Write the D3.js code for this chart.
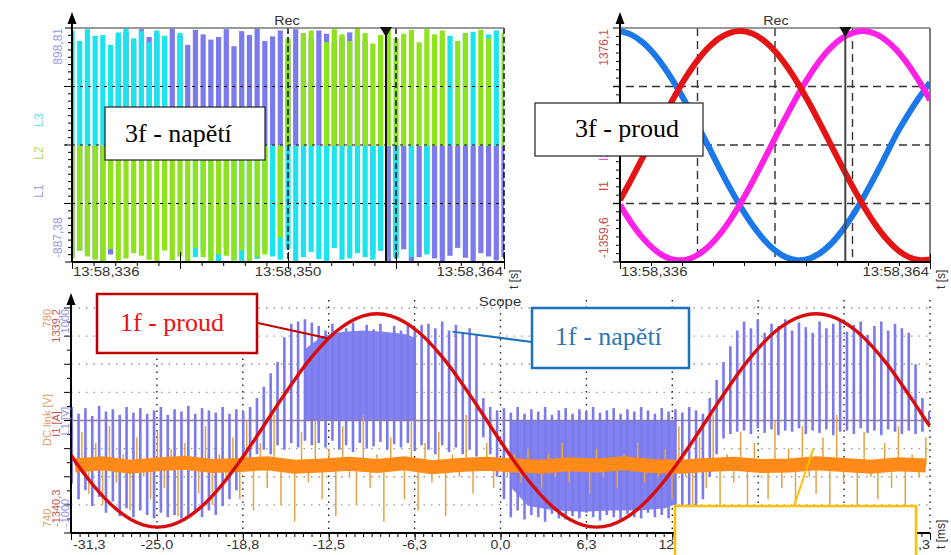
<!DOCTYPE html>
<html>
<head>
<meta charset="utf-8">
<script src="https://cdn.jsdelivr.net/npm/d3@7/dist/d3.min.js"></script>
<style>
  body { margin: 0; background: #fff; }
  svg { display: block; }
  text { font-family: Arial, "Liberation Sans", sans-serif; }
  .note { font-family: "Times New Roman", "Liberation Serif", serif; }
</style>
</head>
<body>
<svg id="chart" width="951" height="555"></svg>
<script>
// ---------- Rec (left): 3f napětí, one PWM pulse every 0.5 ms after 13:58,336 ----------
const recStart = 336;
const recStep = 0.5;
const recMajor = [336, 343, 350, 357, 364];
const recLabels = [336, 350, 364];
const cursorTime = 356.35;

const uL1 = [
  -840, -800, -810, -860, -880, -830,
  820, 870, 790, 890, 830, 860, 800, 895, 840, 770, 885, 850, 810, 830, 890, 760, 875, 845, 895, 800,
  835, 880, 780, 890, 860, 820, 880, 855, 790, 830, 865, 845, 800,
  -830, -800, -880, -845, -790, -885, -850, -810, -860, -887, -840, -780, -855, -880, -820, -845, -875, -850
];
const uL3 = [
  880, 800, 890, 840, 845, 770, 865, 895, 820, 875, 790, 880, 840, 0, 860, 0,
  -850, -800, -845, -880, -780, -875, -887, -820, -865, -800, -845, -870, -790, -885, -850, -810, -865,
  -880, -780, -870, -860, -820, -850, -870, -800,
  0, -860, 0, -850, 0, -830, 0, 0,
  840, 0, 860, 870, 0, 850, 880, 0
];
const uL2 = [
  -860, -800, -845, -870, -887, -790, -875, -860, -820, -840, -870, -885, -800, -875, -845, -880, -780,
  -850, -885, -830, -840, -875, -800, -880, -850, -830,
  0, -700,
  820, 0, 860, 880, 0, 790, 890, 850, 800, 898, 860, 780, 845, 890, 820, 855, 885, 790, 890, 850, 880,
  0, 800, 860, 0, 885, 820, 0, 860
];

// ---------- Rec (right): 3f proud, 1 ms samples ----------
const curStart = 336;
const curStep = 1;
const iRed = [-635, -399, -150, 105, 356, 594, 810, 997, 1149, 1259, 1323, 1340, 1308, 1228, 1104, 941, 744, 519, 276, 23,
  -230, -476, -704, -909, -1079, -1210, -1297, -1337, -1329];
const iBlue = [1338, 1299, 1214, 1084, 915, 714, 487, 241, -12, -267, -511, -736, -934, -1099, -1224, -1305, -1339, -1324,
  -1262, -1155, -1004, -817, -602, -365, -114, 141, 360, 560, 740];
const iMagenta = [-692, -897, -1069, -1202, -1293, -1336, -1332, -1278, -1179, -1037, -858, -648, -414, -166, 89, 340, 579,
  797, 988, 1141, 1253, 1320, 1340, 1311, 1234, 1114, 953, 757, 534];

// ---------- Scope: t [ms], L1 pulses / DC link every 0.5 ms from -31.25 ----------
const scopeStart = -31.25;
const scopeStep = 0.5;
const scopeTicks = [-31.3, -25.04, -18.78, -12.52, -6.26, 0, 6.26, 12.52, 18.78, 25.04, 31.3];

const l1Hi = [
  120, 60, 110, 40, 130, 80, 100, 50, 120, 70, 110, 60, 90, 120, 50, 100, 80, 130, 60, 110, 90, 70, 120, 60, 100,
  80, 120, 200, 300, 420, 520, 740, 860, 880, 900, 870,
  840, 800, 860, 780, 820, 870, 790, 850, 810, 860, 780, 840, 800, 870, 820, 850,
  860, 820, 880, 800, 850, 780, 820, 760,
  200, 120, 90,
  110, 70, 120, 60, 100, 80, 120, 50, 90, 110, 60, 100, 80, 120, 70, 90, 110, 60, 100, 80, 120, 90, 60, 110, 80, 100, 70, 120, 90, 60,
  200, 360, 520, 660, 800,
  880, 820, 900, 780, 860, 840, 900, 800, 870, 830, 780, 880, 820, 860, 900, 790, 850, 880, 760, 840, 880, 800, 860, 820, 780,
  500, 200, 80
];
const l1Lo = [
  -560, -700, -620, -760, -680, -820, -720, -850, -780, -860, -800, -840, -870, -820, -860, -840, -870, -850, -820, -860, -800, -840, -760, -700, -620,
  -420, -380, -300, -260, -300, -220, -260, -200, -240, -180, -220,
  -200, -240, -180, -260, -220, -280, -200, -250, -230, -190, -260, -210, -240, -200, -270, -220,
  -260, -300, -220, -280, -240, -300, -260, -320,
  -150, -300, -500,
  -700, -860, -800, -880, -840, -860, -900, -830, -870, -880, -850, -870, -820, -860, -890, -840, -860, -880, -830, -860, -870, -820, -860, -840, -870, -800, -860, -820, -780, -700,
  -500, -300, -160, -120, -100,
  -90, -120, -70, -110, -80, -130, -90, -100, -70, -120, -90, -110, -80, -130, -100, -90, -120, -70, -110, -90, -130, -80, -100, -120, -90,
  -120, -100, -60
];
// densely packed pulse blocks (solid fill in the picture)
const denseUpT = [-14.2, -13.0, -11.5, -10.0, -8.5, -7.0, -6.3];
const denseUpV = [640, 750, 790, 800, 790, 770, 740];
const denseDownT = [0.8, 2, 4, 6, 8, 10, 12, 12.8];
const denseDownV = [-600, -760, -800, -810, -800, -800, -780, -740];

const dcMean = 752;
const dcLink = [
  753, 758, 747, 756, 745, 759, 749, 754, 744, 757, 750, 746, 758, 748, 755, 743, 756, 751, 747, 759, 745, 754, 749, 757, 746,
  760, 744, 756, 748, 761, 745, 753, 742, 758, 749, 760, 746, 755, 743, 759, 750, 745, 761, 748, 754, 742, 757, 751, 746, 760,
  744, 756, 749, 758, 743, 754, 750, 761, 747, 752,
  756, 748, 753,
  750, 754, 749, 755, 751, 748, 754, 750, 756, 749, 753, 751, 747, 755, 750, 753, 748, 754, 751, 756, 749, 752, 750, 755,
  746, 759, 750, 744, 757, 748, 761, 745, 754, 749, 758, 743, 756, 751, 746, 760, 748, 755, 744, 759, 750, 747, 757, 745,
  761, 749, 753, 744, 758, 750, 746, 756, 748, 759, 745, 754, 750, 757, 752
];
const dcBandStart = -31;
const dcBandStep = 2;
const dcBand = [752.0, 752.4, 751.8, 752.2, 752.5, 751.9, 752.1, 752.4, 751.8, 752.0, 752.3, 751.9, 752.4, 751.7, 752.1, 752.3,
  752.0, 751.8, 752.2, 752.0, 752.4, 751.9, 751.8, 752.1, 752.3, 751.9, 752.0, 752.4, 752.1, 751.8, 752.2, 752.0];

const i1T = [-31.3, -31, -30, -29, -28, -27, -26, -25, -24, -23, -22, -21, -20, -19, -18, -17, -16, -15, -14, -13, -12,
  -11, -10, -9, -8, -7, -6, -5, -4, -3, -2, -1, 0, 1, 2, 3, 4, 5, 6, 7, 8, 9, 10, 11, 12, 13, 14, 15, 16, 17, 18, 19,
  20, 21, 22, 23, 24, 25, 26, 27, 28, 29, 30, 31, 31.3];
const i1Scope = [-410, -486, -706, -898, -1056, -1173, -1246, -1270, -1246, -1173, -1056, -898, -706, -486, -248, 0,
  248, 486, 706, 898, 1056, 1173, 1246, 1270, 1246, 1173, 1056, 898, 706, 486, 248, 0, -248, -486, -706, -898, -1056,
  -1173, -1246, -1270, -1246, -1173, -1056, -898, -706, -486, -248, 0, 248, 486, 706, 898, 1056, 1173, 1246, 1270,
  1246, 1173, 1056, 898, 706, 486, 248, 0, -70];

// ---------- scales ----------
const svg = d3.select("#chart");
const x1 = d3.scaleLinear().domain([336, 364]).range([72, 504]);
const y1 = d3.scaleLinear().domain([-887.38, 898.81]).range([262, 28]);
const x2 = d3.scaleLinear().domain([336, 364]).range([620, 930]);
const y2 = d3.scaleLinear().domain([-1359.6, 1376.1]).range([262, 28]);
const xs = d3.scaleLinear().domain([-31.3, 31.3]).range([71, 930]);
const yL1 = d3.scaleLinear().domain([-1000, 1000]).range([533, 308]);
const yI1 = d3.scaleLinear().domain([-1340.3, 1339.2]).range([533, 308]);
const yDc = d3.scaleLinear().domain([740, 780]).range([533, 308]);

const comma = (v, f) => d3.format(f)(v).replace(".", ",").replace("−", "-");

function wideText(g, x, y, str, size, anchor, sx, color) {
  return g.append("text")
    .attr("transform", `translate(${x},${y}) scale(${sx},1)`)
    .attr("text-anchor", anchor)
    .attr("font-size", size)
    .attr("fill", color || "#333")
    .text(str);
}

function vertText(g, x, y, str, size, anchor, color) {
  return g.append("text")
    .attr("transform", `translate(${x},${y}) rotate(-90)`)
    .attr("text-anchor", anchor)
    .attr("font-size", size)
    .attr("fill", color)
    .text(str);
}

function yAxisArrow(g, x, top, bottom) {
  g.append("line").attr("x1", x).attr("x2", x).attr("y1", top + 10).attr("y2", bottom)
    .attr("stroke", "#000").attr("stroke-width", 2);
  g.append("path").attr("d", `M${x - 4.5},${top + 12}L${x},${top}L${x + 4.5},${top + 12}Z`).attr("fill", "#000");
}

function leftTicks(g, x, yTop, yBottom, parts, every) {
  const step = (yBottom - yTop) / parts;
  d3.range(parts + 1).forEach(k => {
    const yy = yTop + k * step;
    const len = k % every === 0 ? 7 : 4;
    g.append("line").attr("x1", x - len).attr("x2", x).attr("y1", yy).attr("y2", yy)
      .attr("stroke", "#000").attr("stroke-width", 1);
  });
}

function bottomAxis(g, x, yPos, minor, major, upLen) {
  g.append("g").attr("transform", `translate(0,${yPos})`)
    .call(d3.axisBottom(x).tickValues(minor).tickSize(4).tickSizeOuter(0).tickFormat(""))
    .call(a => a.select(".domain").remove());
  g.append("g").attr("transform", `translate(0,${yPos})`)
    .call(d3.axisBottom(x).tickValues(major).tickSize(7).tickSizeOuter(0).tickFormat(""))
    .call(a => a.select(".domain").remove())
    .call(a => a.selectAll(".tick line").clone().attr("y2", -upLen));
  g.append("line").attr("x1", x.range()[0]).attr("x2", x.range()[1]).attr("y1", yPos).attr("y2", yPos)
    .attr("stroke", "#000").attr("stroke-width", 2);
}

function cursor(g, x, top, bottom, color) {
  g.append("line").attr("x1", x).attr("x2", x).attr("y1", top).attr("y2", bottom)
    .attr("stroke", color).attr("stroke-width", 2);
  g.append("path").attr("d", `M${x - 6},${top - 1}L${x + 6},${top - 1}L${x},${top + 9}Z`).attr("fill", "#111");
}

const defs = svg.append("defs");
[["clipA", 72, 28, 432, 234], ["clipB", 620, 28, 310, 234], ["clipC", 71, 300, 859, 233]].forEach(([id, cx, cy, w, h]) => {
  defs.append("clipPath").attr("id", id).append("rect").attr("x", cx).attr("y", cy).attr("width", w).attr("height", h);
});

// =================== panel A: 3f napětí ===================
const pA = svg.append("g");
const pulsesA = pA.append("g").attr("clip-path", "url(#clipA)");
[[uL1, "#7b7bee"], [uL3, "#1ce4ef"], [uL2, "#8fe31e"]].forEach(([series, color]) => {
  pulsesA.append("g").selectAll("rect").data(series).join("rect")
    .attr("x", (d, i) => x1(recStart + i * recStep) - 2.6)
    .attr("width", 5.2)
    .attr("y", d => Math.min(y1(d), y1(0)))
    .attr("height", d => Math.abs(y1(d) - y1(0)))
    .attr("fill", color);
});
// grid
[86.5, 145, 203.5].forEach(py => {
  pA.append("line").attr("x1", 64).attr("x2", 504).attr("y1", py).attr("y2", py)
    .attr("stroke", "#111").attr("stroke-width", 1.2).attr("stroke-dasharray", "3,5");
});
[350, 357].forEach(t => {
  pA.append("line").attr("x1", x1(t)).attr("x2", x1(t)).attr("y1", 28).attr("y2", 262)
    .attr("stroke", "#111").attr("stroke-width", 1.5).attr("stroke-dasharray", "6,3");
});
pA.append("line").attr("x1", 504).attr("x2", 504).attr("y1", 28).attr("y2", 262)
  .attr("stroke", "#111").attr("stroke-width", 1.5).attr("stroke-dasharray", "6,3");
pA.append("line").attr("x1", 72).attr("x2", 504).attr("y1", 28).attr("y2", 28).attr("stroke", "#777").attr("stroke-width", 1.5);
cursor(pA, x1(cursorTime), 28, 262, "#111");
leftTicks(pA, 72, 28, 262, 32, 8);
yAxisArrow(pA, 72, 12, 262);
bottomAxis(pA, x1, 262, d3.range(336, 364.01, 1.4), recMajor, 10);
recLabels.forEach((t, i) => {
  wideText(pA, x1(t) + (i === 0 ? 1 : i === 2 ? -1 : 0), 276, "13:58," + t, 13, ["start", "middle", "end"][i], 1.15);
});
wideText(pA, 287, 25, "Rec", 13, "middle", 1.1);
vertText(pA, 518, 289, "t [s]", 12, "start", "#333");
vertText(pA, 62, 28, comma(898.81, ".2f"), 12, "end", "#9a9ae6");
vertText(pA, 62, 258, comma(-887.38, ".2f"), 12, "start", "#9a9ae6");
vertText(pA, 43, 120, "L3", 12, "middle", "#6fdede");
vertText(pA, 43, 153, "L2", 12, "middle", "#b4dc5a");
vertText(pA, 43, 191, "L1", 12, "middle", "#9d9de8");

// =================== panel B: 3f proud ===================
const pB = svg.append("g");
[343, 350, 357].forEach(t => {
  pB.append("line").attr("x1", x2(t)).attr("x2", x2(t)).attr("y1", 28).attr("y2", 262)
    .attr("stroke", "#333").attr("stroke-width", 1.4).attr("stroke-dasharray", "8,5");
});
[86.5, 145, 203.5].forEach(py => {
  pB.append("line").attr("x1", 613).attr("x2", 930).attr("y1", py).attr("y2", py)
    .attr("stroke", "#333").attr("stroke-width", 1.4).attr("stroke-dasharray", "8,5");
});
pB.append("line").attr("x1", 930).attr("x2", 930).attr("y1", 28).attr("y2", 262).attr("stroke", "#555").attr("stroke-width", 1.5);
pB.append("line").attr("x1", 620).attr("x2", 930).attr("y1", 28).attr("y2", 28).attr("stroke", "#777").attr("stroke-width", 1.5);
const curveB = pB.append("g").attr("clip-path", "url(#clipB)");
const lineB = d3.line().x((d, i) => x2(curStart + i * curStep)).y(d => y2(d)).curve(d3.curveCatmullRom);
[[iBlue, "#1a78e8"], [iMagenta, "#ff22e6"], [iRed, "#e41414"]].forEach(([series, color]) => {
  curveB.append("path").datum(series).attr("d", lineB).attr("fill", "none")
    .attr("stroke", color).attr("stroke-width", 6).attr("stroke-linejoin", "round");
});
cursor(pB, x2(cursorTime), 28, 262, "#444");
leftTicks(pB, 620, 28, 262, 28, 7);
yAxisArrow(pB, 620, 12, 262);
bottomAxis(pB, x2, 262, d3.range(336, 364.01, 2.8), [336, 364], 8);
wideText(pB, 621, 276, "13:58,336", 13, "start", 1.15);
wideText(pB, 929, 276, "13:58,364", 13, "end", 1.15);
wideText(pB, 776, 25, "Rec", 13, "middle", 1.1);
vertText(pB, 945, 289, "t [s]", 12, "start", "#333");
vertText(pB, 608, 29, comma(1376.1, ".1f"), 12, "end", "#c85050");
vertText(pB, 608, 258, comma(-1359.6, ".1f"), 12, "start", "#c85050");
vertText(pB, 608, 140, "I3", 12, "middle", "#4a90e0");
vertText(pB, 608, 161, "I2", 12, "start", "#e060d8");
vertText(pB, 608, 186, "I1", 12, "middle", "#c83c3c");

// =================== panel C: Scope ===================
const pC = svg.append("g");
// grid
[-750, -500, -250, 250, 500, 750, 1000].forEach(v => {
  pC.append("line").attr("x1", 71).attr("x2", 930).attr("y1", yL1(v)).attr("y2", yL1(v))
    .attr("stroke", "#9a9a9a").attr("stroke-width", 1.3).attr("stroke-dasharray", "1.5,6");
});
scopeTicks.slice(1).forEach(t => {
  pC.append("line").attr("x1", xs(t)).attr("x2", xs(t)).attr("y1", 300).attr("y2", 533)
    .attr("stroke", "#222").attr("stroke-width", 1.4).attr("stroke-dasharray", "1.5,5");
});
const sigC = pC.append("g").attr("clip-path", "url(#clipC)");
const tS = i => scopeStart + i * scopeStep;
sigC.append("path").datum(denseUpT.map((t, i) => [t, denseUpV[i]]))
  .attr("d", d3.area().x(d => xs(d[0])).y0(yL1(0)).y1(d => yL1(d[1])))
  .attr("fill", "#8282f0");
sigC.append("path").datum(denseDownT.map((t, i) => [t, denseDownV[i]]))
  .attr("d", d3.area().x(d => xs(d[0])).y0(yL1(0)).y1(d => yL1(d[1])))
  .attr("fill", "#8282f0");
sigC.append("g").selectAll("rect").data(l1Hi).join("rect")
  .attr("x", (d, i) => xs(tS(i)) - 1.3)
  .attr("width", 2.6)
  .attr("y", d => yL1(d))
  .attr("height", (d, i) => yL1(l1Lo[i]) - yL1(d))
  .attr("fill", "#7b7bee");
sigC.append("line").attr("x1", 71).attr("x2", 930).attr("y1", yL1(0)).attr("y2", yL1(0))
  .attr("stroke", "#8a7aac").attr("stroke-width", 1.3);
// DC link
sigC.append("g").selectAll("line").data(dcLink).join("line")
  .attr("x1", (d, i) => xs(tS(i) + 0.25)).attr("x2", (d, i) => xs(tS(i) + 0.25))
  .attr("y1", yDc(dcMean)).attr("y2", d => yDc(d))
  .attr("stroke", "#e2a444").attr("stroke-width", 1.5);
sigC.append("path").datum(dcBand)
  .attr("d", d3.line().x((d, i) => xs(dcBandStart + i * dcBandStep)).y(d => yDc(d)))
  .attr("fill", "none").attr("stroke", "#ff8a18").attr("stroke-width", 14);
// I1
sigC.append("path").datum(i1Scope)
  .attr("d", d3.line().x((d, i) => xs(i1T[i])).y(d => yI1(d)).curve(d3.curveCatmullRom))
  .attr("fill", "none").attr("stroke", "#d80c0c").attr("stroke-width", 3.4);

leftTicks(pC, 71, 308, 533, 16, 2);
yAxisArrow(pC, 71, 293, 533);
bottomAxis(pC, xs, 533, d3.range(-31.3, 31.31, 0.626), scopeTicks, 0);
scopeTicks.forEach((t, i) => {
  const anchor = i === 0 ? "start" : i === scopeTicks.length - 1 ? "end" : "middle";
  wideText(pC, xs(t) + (i === 0 ? 2 : 0), 549, comma(t, ".1f"), 13, anchor, 1.1);
});
wideText(pC, 500, 306, "Scope", 13, "middle", 1.15);
vertText(pC, 945, 549, "t [ms]", 12, "start", "#333");
vertText(pC, 51, 309, "780", 11, "end", "#e0a060");
vertText(pC, 51, 527, "740", 11, "start", "#e0a060");
vertText(pC, 51, 420, "DC link [V]", 11, "middle", "#e0a060");
vertText(pC, 60, 309, comma(1339.2, ".1f"), 11, "end", "#c85858");
vertText(pC, 60, 527, comma(-1340.3, ".1f"), 11, "start", "#c85858");
vertText(pC, 60, 424, "I1 [A]", 11, "middle", "#c85858");
vertText(pC, 69, 309, "1000", 11, "end", "#9090e6");
vertText(pC, 69, 527, "-1000", 11, "start", "#9090e6");
vertText(pC, 69, 421, "L1 [V]", 11, "middle", "#9090e6");

// =================== annotations ===================
const notes = svg.append("g");
function noteBox(x, y, w, h, stroke, sw, label, color, tx, ty) {
  notes.append("rect").attr("x", x).attr("y", y).attr("width", w).attr("height", h)
    .attr("fill", "#fff").attr("stroke", stroke).attr("stroke-width", sw);
  if (label) {
    notes.append("text").attr("class", "note").attr("x", tx).attr("y", ty)
      .attr("font-size", 26).attr("fill", color).text(label);
  }
}
function connector(xa, ya, xb, yb, color) {
  notes.append("line").attr("x1", xa).attr("y1", ya).attr("x2", xb).attr("y2", yb)
    .attr("stroke", color).attr("stroke-width", 2);
}
noteBox(105, 107, 160, 53, "#222", 1.2, "3f - napětí", "#000", 125, 142);
noteBox(535, 103, 168, 53, "#222", 1.2, "3f - proud", "#000", 575, 137);
connector(258, 323, xs(-12.6), yI1(980), "#c00000");
noteBox(97, 294, 160, 59, "#c00000", 2.5, "1f - proud", "#ee1111", 120, 331);
connector(532, 342, xs(-3.5), yL1(790), "#1f6fbf");
noteBox(532, 308, 157, 60, "#1f6fbf", 2.5, "1f - napětí", "#2e75b6", 555, 345);
connector(794, 506, xs(22.8), yDc(755), "#ffc000");
noteBox(675, 506, 241, 60, "#ffc000", 2.5, null);
</script>
</body>
</html>
